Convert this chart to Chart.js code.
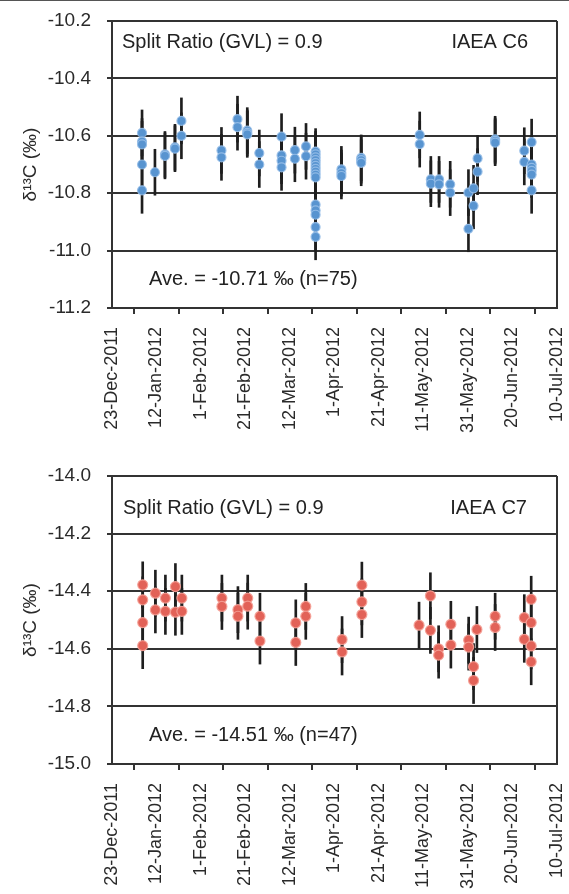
<!DOCTYPE html>
<html>
<head>
<meta charset="utf-8">
<script src="https://cdn.jsdelivr.net/npm/chart.js@4.4.1/dist/chart.umd.min.js"></script>
<style>
  html, body { margin: 0; padding: 0; background: #fff; overflow: hidden; }
  body { width: 569px; height: 894px; position: relative; }
  .topline { position: absolute; left: 0; top: 0; width: 569px; height: 1px; background: #555; }
  .panel { position: absolute; left: 0; width: 569px; height: 460px; }
</style>
</head>
<body>
<div class="topline"></div>
<div class="panel" style="top:0"><canvas id="c6" width="569" height="460"></canvas></div>
<div class="panel" style="top:460px"><canvas id="c7" width="569" height="460"></canvas></div>
<script>
// x axis: days after 23-Dec-2011, ticks every 20 days
const dateLabels = ['23-Dec-2011', '12-Jan-2012', '1-Feb-2012', '21-Feb-2012', '12-Mar-2012',
  '1-Apr-2012', '21-Apr-2012', '11-May-2012', '31-May-2012', '20-Jun-2012', '10-Jul-2012'];
const dateTickDays = [0, 20, 40, 60, 80, 100, 120, 140, 160, 180, 200];

const c6YTicks = [-11.2, -11.0, -10.8, -10.6, -10.4, -10.2];
const c7YTicks = [-15.0, -14.8, -14.6, -14.4, -14.2, -14.0];

// IAEA C6 (n=75)
const c6Days = [
  13.5, 13.5, 13.5, 13.5, 13.5, 19.3, 23.8, 23.8, 28.3, 28.3, 31.2, 31.2,
  49.2, 49.2, 56.4, 56.4, 60.8, 60.8, 60.8, 66.2, 66.2,
  76.2, 76.2, 76.2, 76.2, 82.2, 82.2, 87.2, 87.2,
  91.5, 91.5, 91.5, 91.5, 91.5, 91.5, 91.5, 91.5, 91.5, 91.5, 91.5, 91.5, 91.5, 91.5, 91.5,
  103.1, 103.1, 103.1, 112, 112, 112,
  138.3, 138.3, 143.3, 143.3, 147, 147, 152, 152, 160.2, 160.2, 162.5, 162.5, 164.3, 164.3,
  172.2, 172.2, 172.2, 185.3, 185.3, 188.6, 188.6, 188.6, 188.6, 188.6, 188.6
];
const c6Values = [
  -10.59, -10.62, -10.63, -10.70, -10.79, -10.727, -10.665, -10.67, -10.64, -10.645, -10.548, -10.60,
  -10.651, -10.675, -10.542, -10.57, -10.582, -10.59, -10.595, -10.66, -10.70,
  -10.603, -10.668, -10.687, -10.71, -10.65, -10.68, -10.637, -10.671,
  -10.655, -10.665, -10.675, -10.685, -10.695, -10.705, -10.715, -10.725, -10.735, -10.745,
  -10.84, -10.86, -10.875, -10.918, -10.952,
  -10.717, -10.73, -10.74, -10.677, -10.685, -10.694,
  -10.597, -10.629, -10.752, -10.767, -10.752, -10.769, -10.769, -10.798, -10.798, -10.924,
  -10.783, -10.844, -10.679, -10.725,
  -10.612, -10.618, -10.624, -10.652, -10.691, -10.622, -10.70, -10.712, -10.722, -10.735, -10.79
];
const c6Err = 0.08;

// IAEA C7 (n=47)
const c7Days = [
  13.8, 13.8, 13.8, 13.8, 19.5, 19.5, 24, 24, 28.5, 28.5, 31.4, 31.4,
  49.4, 49.4, 56.6, 56.6, 61, 61, 66.5, 66.5, 82.6, 82.6, 87.1, 87.1,
  103.4, 103.4, 112.3, 112.3, 112.3,
  138, 143.1, 143.1, 146.8, 146.8, 152.3, 152.3, 160.3, 160.3, 162.5, 162.5, 164,
  172.2, 172.2, 185.3, 185.3, 188.4, 188.4, 188.4, 188.4
];
const c7Values = [
  -14.378, -14.43, -14.509, -14.589, -14.407, -14.465, -14.424, -14.47, -14.384, -14.473, -14.424, -14.47,
  -14.424, -14.453, -14.464, -14.487, -14.424, -14.452, -14.487, -14.573, -14.51, -14.578, -14.453, -14.487,
  -14.568, -14.611, -14.379, -14.437, -14.481,
  -14.518, -14.416, -14.536, -14.60, -14.622, -14.515, -14.587, -14.57, -14.594, -14.662, -14.71, -14.533,
  -14.487, -14.526, -14.492, -14.567, -14.428, -14.509, -14.59, -14.645
];
const c7Err = 0.08;

Chart.defaults.font.family = "'Liberation Sans', Arial, sans-serif";
Chart.defaults.color = '#2a2a2a';
Chart.defaults.animation = false;

const notesPlugin = {
  id: 'notes',
  afterDatasetsDraw(chart, args, opts) {
    const ctx = chart.ctx, xs = chart.scales.x, ys = chart.scales.y;
    ctx.save();
    ctx.font = opts.font;
    ctx.fillStyle = opts.color;
    ctx.textBaseline = 'middle';
    opts.items.forEach(n => {
      ctx.textAlign = n.align;
      ctx.fillText(n.text, xs.getPixelForValue(n.x), ys.getPixelForValue(n.y));
    });
    ctx.restore();
  }
};

// right edge of the box
const framePlugin = {
  id: 'frame',
  afterDraw(chart) {
    const { ctx, chartArea: a } = chart;
    ctx.save();
    ctx.strokeStyle = '#333';
    ctx.lineWidth = 2;
    ctx.beginPath();
    ctx.moveTo(a.right, a.top);
    ctx.lineTo(a.right, a.bottom);
    ctx.stroke();
    ctx.restore();
  }
};

function makePanel(id, days, values, err, yTicks, fill, edge, radius, notes, padTop, xHeight) {
  const points = days.map((d, i) => ({ x: d, y: values[i] }));
  const bars = days.map((d, i) => ({ x: d, y: [values[i] - err, values[i] + err] }));
  return new Chart(document.getElementById(id), {
    type: 'scatter',
    data: {
      datasets: [
        { type: 'bar', data: bars, backgroundColor: '#1e1e1e', barThickness: 2, grouped: false, order: 2 },
        { type: 'scatter', data: points, backgroundColor: fill, borderColor: edge, borderWidth: 1.2,
          pointRadius: radius, order: 1 }
      ]
    },
    options: {
      responsive: false,
      layout: { padding: { top: padTop, right: 12, left: 0, bottom: 0 } },
      plugins: {
        legend: { display: false },
        tooltip: { enabled: false },
        notes: { font: '20px "Liberation Sans", Arial, sans-serif', color: '#222', items: notes }
      },
      scales: {
        x: {
          type: 'linear', min: 0, max: 200, offset: false,
          afterBuildTicks: s => { s.ticks = dateTickDays.map(v => ({ value: v })); },
          afterFit: s => { s.height = xHeight; s.paddingLeft = 0; s.paddingRight = 0; },
          ticks: { autoSkip: false, minRotation: 90, maxRotation: 90, padding: 13, font: { size: 18 },
            callback: (v, i) => dateLabels[i] },
          grid: { drawOnChartArea: false, drawTicks: true, tickLength: 6, color: '#333', lineWidth: 2 },
          border: { display: true, color: '#333', width: 2 }
        },
        y: {
          type: 'linear', min: yTicks[0], max: yTicks[yTicks.length - 1],
          afterBuildTicks: s => { s.ticks = yTicks.map(v => ({ value: v })); },
          afterFit: s => { s.width = 112; s.paddingTop = 0; s.paddingBottom = 0; },
          ticks: { padding: 16, font: { size: 19 }, callback: v => v.toFixed(1) },
          grid: { color: '#333', lineWidth: 2, tickLength: 5 },
          border: { display: true, color: '#333', width: 2 },
          title: { display: true, text: 'δ¹³C (‰)', font: { size: 19 }, padding: { top: 19, bottom: 0 } }
        }
      }
    },
    plugins: [notesPlugin, framePlugin]
  });
}

makePanel('c6', c6Days, c6Values, c6Err, c6YTicks, 'rgb(88,148,208)', 'rgba(150,190,232,0.9)', 4.5, [
  { text: 'Split Ratio (GVL) = 0.9', x: 4.5, y: -10.274, align: 'left' },
  { text: 'IAEA C6', x: 187, y: -10.274, align: 'right' },
  { text: 'Ave. = -10.71 ‰ (n=75)', x: 16.6, y: -11.1, align: 'left' }
], 21, 152);

makePanel('c7', c7Days, c7Values, c7Err, c7YTicks, 'rgb(226,98,88)', 'rgba(245,160,150,0.9)', 5, [
  { text: 'Split Ratio (GVL) = 0.9', x: 4.9, y: -14.112, align: 'left' },
  { text: 'IAEA C7', x: 186.5, y: -14.112, align: 'right' },
  { text: 'Ave. = -14.51 ‰ (n=47)', x: 16.6, y: -14.9, align: 'left' }
], 16, 156);
</script>
</body>
</html>
